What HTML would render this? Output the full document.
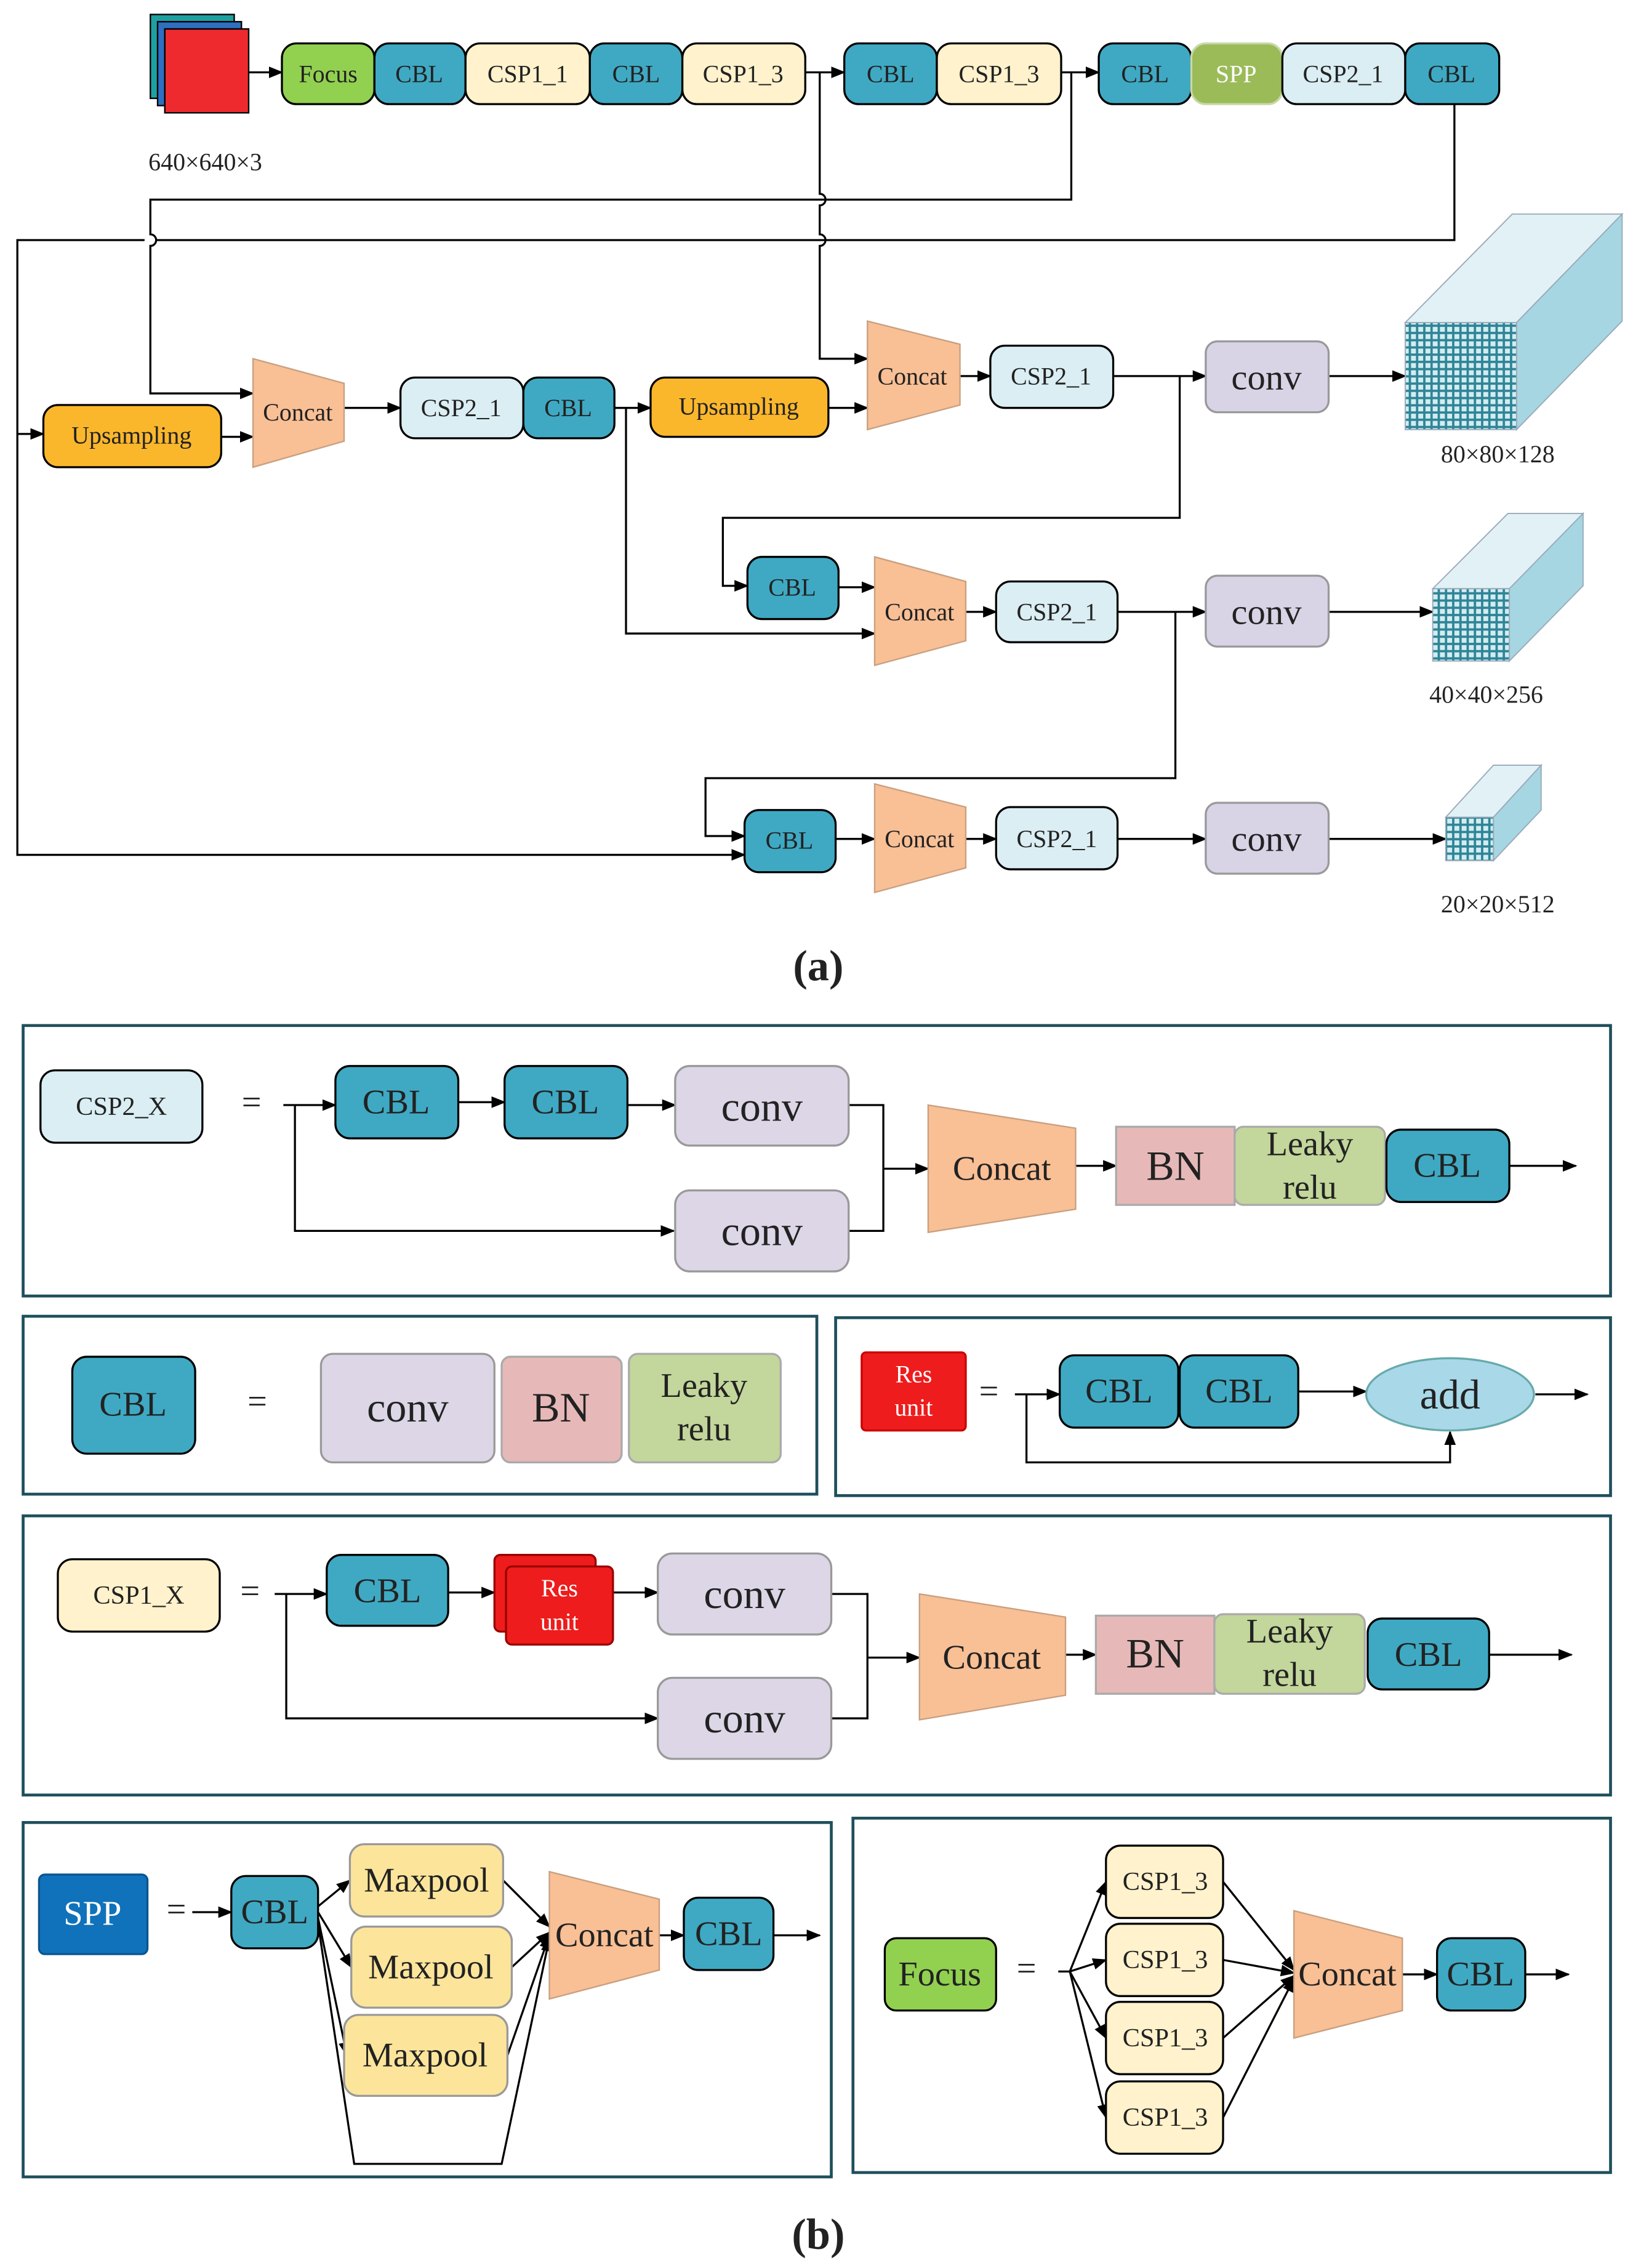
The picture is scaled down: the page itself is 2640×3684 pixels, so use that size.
<!DOCTYPE html>
<html><head><meta charset="utf-8"><style>
html,body{margin:0;padding:0;background:#fff}
svg{display:block}
text{font-family:"Liberation Serif","Noto Serif CJK SC",serif;text-anchor:middle;dominant-baseline:central;fill:#222}
</style></head><body>
<svg width="2640" height="3684" viewBox="0 0 1124 1568" preserveAspectRatio="none" xmlns="http://www.w3.org/2000/svg">
<defs>
<marker id="a" markerWidth="10" markerHeight="8" refX="9" refY="4" orient="auto" markerUnits="userSpaceOnUse"><path d="M0,0 L10,4 L0,8 z" fill="#000"/></marker>
<pattern id="g" width="5" height="5" patternUnits="userSpaceOnUse"><rect width="5" height="5" fill="#2e8596"/><rect x="1" y="1" width="3.4" height="3.4" fill="#d3ecf2"/></pattern>
</defs>
<g stroke="#000" stroke-width="1.4" fill="none">
<path d="M172,50 H195" marker-end="url(#a)"/>
<path d="M557,50 H584" marker-end="url(#a)"/>
<path d="M734,50 H760" marker-end="url(#a)"/>
<path d="M567,50 V134 a4,4 0 0 1 0,8 V162 a4,4 0 0 1 0,8 V248 H600" marker-end="url(#a)"/>
<path d="M741,50 V138 H104 V162 a4,4 0 0 1 0,8 V272 H175" marker-end="url(#a)"/>
<path d="M1006,72 V166 H108 M100,166 H12 V591 H515" marker-end="url(#a)"/>
<path d="M12,300 H30" marker-end="url(#a)"/>
<path d="M153,302 H175" marker-end="url(#a)"/>
<path d="M238,282 H277" marker-end="url(#a)"/>
<path d="M425,282 H450" marker-end="url(#a)"/>
<path d="M433,282 V438 H605" marker-end="url(#a)"/>
<path d="M573,282 H600" marker-end="url(#a)"/>
<path d="M664,260 H685" marker-end="url(#a)"/>
<path d="M770,260 H834" marker-end="url(#a)"/>
<path d="M816,260 V358 H500 V405 H517" marker-end="url(#a)"/>
<path d="M919,260 H972" marker-end="url(#a)"/>
<path d="M580,406 H605" marker-end="url(#a)"/>
<path d="M668,423 H689" marker-end="url(#a)"/>
<path d="M773,423 H834" marker-end="url(#a)"/>
<path d="M813,423 V538 H488 V578 H515" marker-end="url(#a)"/>
<path d="M919,423 H991" marker-end="url(#a)"/>
<path d="M578,580 H605" marker-end="url(#a)"/>
<path d="M668,580 H689" marker-end="url(#a)"/>
<path d="M773,580 H834" marker-end="url(#a)"/>
<path d="M919,580 H1000" marker-end="url(#a)"/>
</g>
<rect x="104" y="10" width="58" height="58" fill="#1fa0a0" stroke="#000"/>
<rect x="109" y="15" width="58" height="58" fill="#2e6fc0" stroke="#000"/>
<rect x="114" y="20" width="58" height="58" fill="#ee2a2e" stroke="#000"/>
<text x="142" y="112" font-size="17">640×640×3</text>
<g stroke="#000" stroke-width="1.4" font-size="17">
<rect x="195" y="30" width="64" height="42" rx="10" fill="#92d050"/>
<rect x="259" y="30" width="63" height="42" rx="10" fill="#3fa9c3"/>
<rect x="322" y="30" width="86" height="42" rx="10" fill="#fff2cc"/>
<rect x="408" y="30" width="64" height="42" rx="10" fill="#3fa9c3"/>
<rect x="472" y="30" width="85" height="42" rx="10" fill="#fff2cc"/>
<rect x="584" y="30" width="64" height="42" rx="10" fill="#3fa9c3"/>
<rect x="648" y="30" width="86" height="42" rx="10" fill="#fff2cc"/>
<rect x="760" y="30" width="64" height="42" rx="10" fill="#3fa9c3"/>
<rect x="824" y="30" width="63" height="42" rx="10" fill="#9bbb59" stroke="#c8d8a8"/>
<rect x="887" y="30" width="85" height="42" rx="10" fill="#daeef3"/>
<rect x="972" y="30" width="65" height="42" rx="10" fill="#3fa9c3"/>
<rect x="30" y="280" width="123" height="43" rx="10" fill="#fbb72c"/>
<path d="M175,248 L238,265 L238,305 L175,323 z" fill="#f9bf95" stroke="#c8a080" stroke-width="1"/>
<rect x="277" y="261" width="85" height="42" rx="10" fill="#daeef3"/>
<rect x="362" y="261" width="63" height="42" rx="10" fill="#3fa9c3"/>
<rect x="450" y="261" width="123" height="41" rx="10" fill="#fbb72c"/>
<path d="M600,222 L664,238 L664,280 L600,297 z" fill="#f9bf95" stroke="#c8a080" stroke-width="1"/>
<rect x="685" y="239" width="85" height="43" rx="10" fill="#daeef3"/>
<rect x="834" y="236" width="85" height="49" rx="8" fill="#d9d3e6" stroke="#999"/>
<rect x="517" y="385" width="63" height="43" rx="10" fill="#3fa9c3"/>
<path d="M605,385 L668,402 L668,443 L605,460 z" fill="#f9bf95" stroke="#c8a080" stroke-width="1"/>
<rect x="689" y="402" width="84" height="42" rx="10" fill="#daeef3"/>
<rect x="834" y="398" width="85" height="49" rx="8" fill="#d9d3e6" stroke="#999"/>
<rect x="515" y="560" width="63" height="43" rx="10" fill="#3fa9c3"/>
<path d="M605,542 L668,558 L668,600 L605,617 z" fill="#f9bf95" stroke="#c8a080" stroke-width="1"/>
<rect x="689" y="558" width="84" height="43" rx="10" fill="#daeef3"/>
<rect x="834" y="555" width="85" height="49" rx="8" fill="#d9d3e6" stroke="#999"/>
</g>
<g font-size="17">
<text x="227" y="51">Focus</text><text x="290" y="51">CBL</text><text x="365" y="51">CSP1_1</text>
<text x="440" y="51">CBL</text><text x="514" y="51">CSP1_3</text><text x="616" y="51">CBL</text>
<text x="691" y="51">CSP1_3</text><text x="792" y="51">CBL</text><text x="855" y="51" style="fill:#fff">SPP</text>
<text x="929" y="51">CSP2_1</text><text x="1004" y="51">CBL</text>
<text x="91" y="301">Upsampling</text><text x="206" y="285">Concat</text>
<text x="319" y="282">CSP2_1</text><text x="393" y="282">CBL</text>
<text x="511" y="281">Upsampling</text><text x="631" y="260">Concat</text><text x="727" y="260">CSP2_1</text>
<text x="548" y="406">CBL</text><text x="636" y="423">Concat</text><text x="731" y="423">CSP2_1</text>
<text x="546" y="581">CBL</text><text x="636" y="580">Concat</text><text x="731" y="580">CSP2_1</text>
</g>
<g font-size="25"><text x="876" y="261">conv</text><text x="876" y="423">conv</text><text x="876" y="580">conv</text></g>
<g stroke="#9ab" stroke-width="0.8">
<path d="M972,223 L1046,148 L1122,148 L1049,223 z" fill="#e2f1f5"/>
<path d="M1049,223 L1122,148 L1122,222 L1049,297 z" fill="#a6d6e2"/>
<rect x="972" y="223" width="77" height="74" fill="url(#g)"/>
<path d="M991,407 L1043,355 L1095,355 L1044,407 z" fill="#e2f1f5"/>
<path d="M1044,407 L1095,355 L1095,405 L1044,457 z" fill="#a6d6e2"/>
<rect x="991" y="407" width="53" height="50" fill="url(#g)"/>
<path d="M1000,565 L1033,529 L1066,529 L1033,565 z" fill="#e2f1f5"/>
<path d="M1033,565 L1066,529 L1066,560 L1033,595 z" fill="#a6d6e2"/>
<rect x="1000" y="565" width="33" height="30" fill="url(#g)"/>
</g>
<g font-size="17"><text x="1036" y="314">80×80×128</text><text x="1028" y="480">40×40×256</text><text x="1036" y="625">20×20×512</text></g>
<text x="566" y="668" font-size="30" font-weight="bold">(a)</text>

<g fill="none" stroke="#1f4f5c" stroke-width="2">
<rect x="16" y="709" width="1098" height="187"/>
<rect x="16" y="910" width="549" height="123"/>
<rect x="578" y="911" width="536" height="123"/>
<rect x="16" y="1048" width="1098" height="193"/>
<rect x="16" y="1260" width="559" height="245"/>
<rect x="590" y="1257" width="524" height="245"/>
</g>
<g stroke="#000" stroke-width="1.4" fill="none">
<path d="M196,764 H232" marker-end="url(#a)"/>
<path d="M204,764 V851 H466" marker-end="url(#a)"/>
<path d="M317,762 H349" marker-end="url(#a)"/>
<path d="M434,764 H467" marker-end="url(#a)"/>
<path d="M587,764 H611 V851 H587 M611,808 H642" marker-end="url(#a)"/>
<path d="M744,806 H772" marker-end="url(#a)"/>
<path d="M1044,806 H1090" marker-end="url(#a)"/>
<path d="M702,964 H733" marker-end="url(#a)"/>
<path d="M710,964 V1011 H1003 V990" marker-end="url(#a)"/>
<path d="M898,962 H945" marker-end="url(#a)"/>
<path d="M1062,964 H1098" marker-end="url(#a)"/>
<path d="M190,1102 H226" marker-end="url(#a)"/>
<path d="M198,1102 V1188 H455" marker-end="url(#a)"/>
<path d="M310,1101 H342" marker-end="url(#a)"/>
<path d="M424,1101 H455" marker-end="url(#a)"/>
<path d="M575,1102 H600 V1188 H575 M600,1146 H636" marker-end="url(#a)"/>
<path d="M737,1144 H758" marker-end="url(#a)"/>
<path d="M1030,1144 H1087" marker-end="url(#a)"/>
<path d="M133,1322 H160" marker-end="url(#a)"/>
<path d="M220,1318 L242,1300" marker-end="url(#a)"/>
<path d="M220,1322 L243,1360" marker-end="url(#a)"/>
<path d="M220,1326 L240,1421" marker-end="url(#a)"/>
<path d="M220,1330 L245,1496 H347 L380,1340" marker-end="url(#a)"/>
<path d="M348,1300 L380,1332" marker-end="url(#a)"/>
<path d="M354,1360 L380,1336" marker-end="url(#a)"/>
<path d="M351,1421 L380,1338" marker-end="url(#a)"/>
<path d="M456,1338 H473" marker-end="url(#a)"/>
<path d="M535,1338 H567" marker-end="url(#a)"/>
<path d="M732,1363 H740"/>
<path d="M740,1363 L765,1301" marker-end="url(#a)"/>
<path d="M740,1363 L765,1355" marker-end="url(#a)"/>
<path d="M740,1363 L765,1409" marker-end="url(#a)"/>
<path d="M740,1363 L765,1464" marker-end="url(#a)"/>
<path d="M846,1301 L895,1362" marker-end="url(#a)"/>
<path d="M846,1355 L895,1364" marker-end="url(#a)"/>
<path d="M846,1409 L895,1366" marker-end="url(#a)"/>
<path d="M846,1464 L895,1368" marker-end="url(#a)"/>
<path d="M970,1365 H994" marker-end="url(#a)"/>
<path d="M1055,1365 H1085" marker-end="url(#a)"/>
</g>
<g stroke="#000" stroke-width="1.4">
<rect x="28" y="740" width="112" height="50" rx="10" fill="#daeef3"/>
<rect x="232" y="737" width="85" height="50" rx="10" fill="#3fa9c3"/>
<rect x="349" y="737" width="85" height="50" rx="10" fill="#3fa9c3"/>
<rect x="467" y="737" width="120" height="55" rx="10" fill="#dcd6e6" stroke="#999"/>
<rect x="467" y="823" width="120" height="56" rx="10" fill="#dcd6e6" stroke="#999"/>
<path d="M642,764 L744,780 L744,836 L642,852 z" fill="#f9bf95" stroke="#c8a080" stroke-width="1"/>
<rect x="772" y="779" width="82" height="54" fill="#e6b9b8" stroke="#aaa"/>
<rect x="854" y="779" width="104" height="54" rx="6" fill="#c3d69b" stroke="#aaa"/>
<rect x="959" y="781" width="85" height="50" rx="10" fill="#3fa9c3"/>
<rect x="50" y="938" width="85" height="67" rx="10" fill="#3fa9c3"/>
<rect x="222" y="936" width="120" height="75" rx="8" fill="#dcd6e6" stroke="#999"/>
<rect x="347" y="938" width="83" height="73" rx="6" fill="#e6b9b8" stroke="#aaa"/>
<rect x="435" y="936" width="105" height="75" rx="6" fill="#c3d69b" stroke="#aaa"/>
<rect x="596" y="935" width="72" height="54" rx="3" fill="#ee1c1c" stroke="#c00"/>
<rect x="733" y="937" width="82" height="50" rx="10" fill="#3fa9c3"/>
<rect x="816" y="937" width="82" height="50" rx="10" fill="#3fa9c3"/>
<ellipse cx="1003" cy="964" rx="58" ry="25" fill="#a9d8e8" stroke="#6aa"/>
<rect x="40" y="1078" width="112" height="50" rx="10" fill="#fff2cc"/>
<rect x="226" y="1075" width="84" height="49" rx="10" fill="#3fa9c3"/>
<rect x="342" y="1075" width="70" height="53" rx="4" fill="#ee1c1c" stroke="#900"/>
<rect x="350" y="1083" width="74" height="54" rx="4" fill="#ee1c1c" stroke="#900"/>
<rect x="455" y="1074" width="120" height="56" rx="10" fill="#dcd6e6" stroke="#999"/>
<rect x="455" y="1160" width="120" height="56" rx="10" fill="#dcd6e6" stroke="#999"/>
<path d="M636,1102 L737,1118 L737,1172 L636,1189 z" fill="#f9bf95" stroke="#c8a080" stroke-width="1"/>
<rect x="758" y="1117" width="82" height="54" fill="#e6b9b8" stroke="#aaa"/>
<rect x="840" y="1116" width="104" height="55" rx="6" fill="#c3d69b" stroke="#aaa"/>
<rect x="946" y="1119" width="84" height="49" rx="10" fill="#3fa9c3"/>
<rect x="27" y="1296" width="75" height="55" rx="4" fill="#1072ba" stroke="#0a5590"/>
<rect x="160" y="1297" width="60" height="50" rx="10" fill="#3fa9c3"/>
<rect x="242" y="1275" width="106" height="50" rx="10" fill="#fce59b" stroke="#999"/>
<rect x="243" y="1332" width="111" height="56" rx="10" fill="#fce59b" stroke="#999"/>
<rect x="238" y="1393" width="113" height="56" rx="10" fill="#fce59b" stroke="#999"/>
<path d="M380,1294 L456,1313 L456,1362 L380,1382 z" fill="#f9bf95" stroke="#c8a080" stroke-width="1"/>
<rect x="473" y="1312" width="62" height="50" rx="10" fill="#3fa9c3"/>
<rect x="612" y="1340" width="77" height="50" rx="8" fill="#92d050"/>
<rect x="765" y="1276" width="81" height="50" rx="10" fill="#fff2cc"/>
<rect x="765" y="1330" width="81" height="50" rx="10" fill="#fff2cc"/>
<rect x="765" y="1384" width="81" height="50" rx="10" fill="#fff2cc"/>
<rect x="765" y="1439" width="81" height="50" rx="10" fill="#fff2cc"/>
<path d="M895,1321 L970,1340 L970,1390 L895,1409 z" fill="#f9bf95" stroke="#c8a080" stroke-width="1"/>
<rect x="994" y="1340" width="61" height="50" rx="10" fill="#3fa9c3"/>
</g>
<g font-size="18">
<text x="84" y="765">CSP2_X</text><text x="96" y="1103">CSP1_X</text>
<text x="806" y="1301">CSP1_3</text><text x="806" y="1355">CSP1_3</text><text x="806" y="1409">CSP1_3</text><text x="806" y="1464">CSP1_3</text>
</g>
<g font-size="24">
<text x="174" y="762">=</text><text x="178" y="969">=</text><text x="684" y="962">=</text><text x="173" y="1100">=</text><text x="122" y="1320">=</text><text x="710" y="1361">=</text>
<text x="274" y="762">CBL</text><text x="391" y="762">CBL</text><text x="1001" y="806">CBL</text>
<text x="92" y="971">CBL</text><text x="774" y="962">CBL</text><text x="857" y="962">CBL</text>
<text x="268" y="1100">CBL</text><text x="988" y="1144">CBL</text>
<text x="64" y="1323" style="fill:#fff">SPP</text><text x="190" y="1322">CBL</text><text x="504" y="1337">CBL</text>
<text x="650" y="1365">Focus</text><text x="1024" y="1365">CBL</text>
<text x="693" y="808">Concat</text><text x="686" y="1146">Concat</text>
<text x="418" y="1338">Concat</text><text x="932" y="1365">Concat</text>
<text x="295" y="1300">Maxpool</text><text x="298" y="1360">Maxpool</text><text x="294" y="1421">Maxpool</text>
<text x="906" y="791">Leaky</text><text x="906" y="821">relu</text>
<text x="487" y="958">Leaky</text><text x="487" y="988">relu</text>
<text x="892" y="1128">Leaky</text><text x="892" y="1158">relu</text>
</g>
<g font-size="29">
<text x="527" y="765">conv</text><text x="527" y="851">conv</text><text x="813" y="806">BN</text>
<text x="282" y="973">conv</text><text x="388" y="973">BN</text><text x="1003" y="964">add</text>
<text x="515" y="1102">conv</text><text x="515" y="1188">conv</text><text x="799" y="1143">BN</text>
</g>
<g font-size="17">
<text x="632" y="950" style="fill:#fff">Res</text><text x="632" y="973" style="fill:#fff">unit</text>
<text x="387" y="1098" style="fill:#fff">Res</text><text x="387" y="1121" style="fill:#fff">unit</text>
</g>
<text x="566" y="1545" font-size="30" font-weight="bold">(b)</text>
</svg>
</body></html>
